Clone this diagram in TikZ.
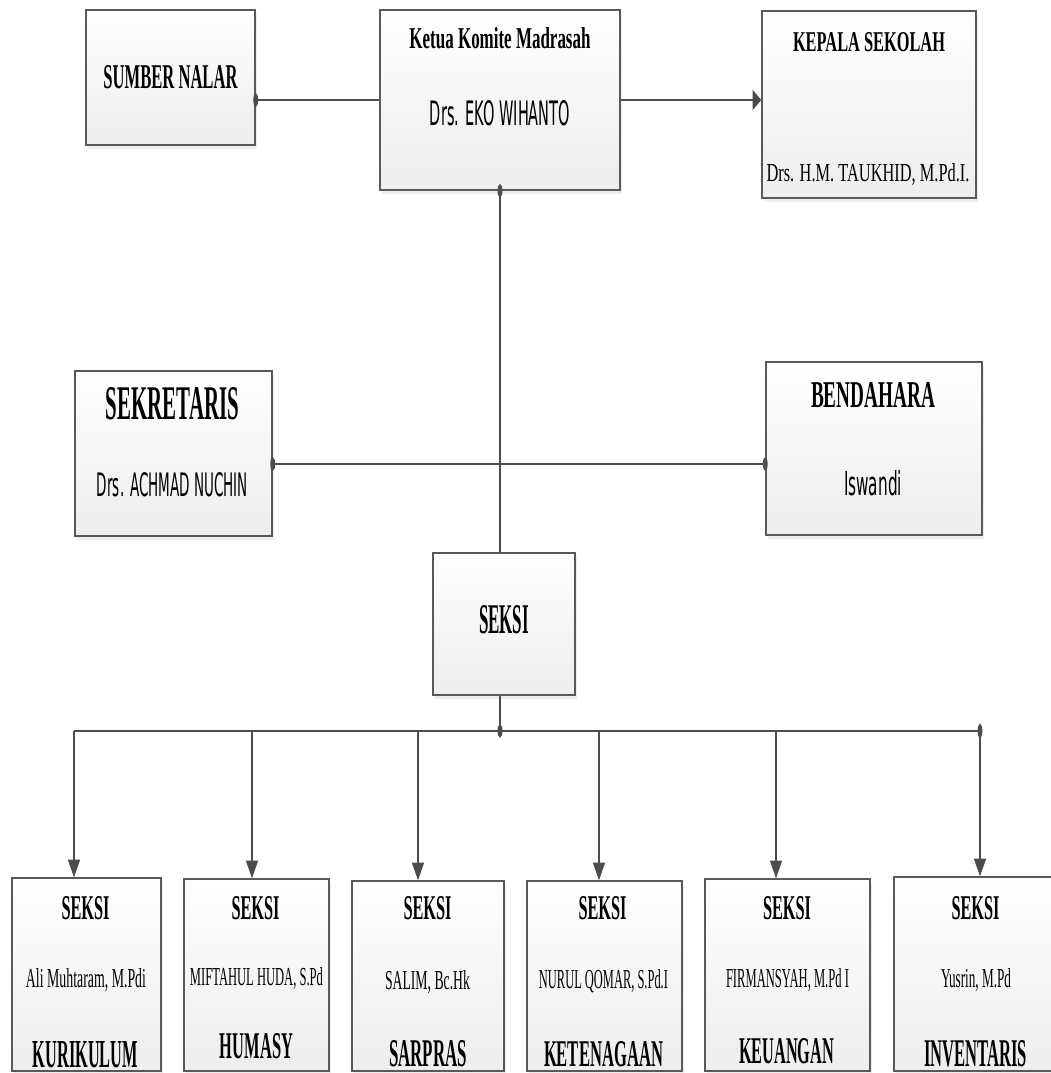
\documentclass[tikz,border=0pt]{standalone}
\usepackage{fontspec}
\setmainfont{Liberation Serif}
\newfontfamily\namefont{DejaVu Sans}
\usepackage{graphicx}
\usetikzlibrary{positioning,calc,arrows.meta,shadows}

\newlength{\px}
\setlength{\px}{0.02cm}
\newcommand{\fitxt}[3]{\resizebox{#1\px}{#2\px}{#3}}

\tikzset{
	orgbox/.style={draw=gray!70!black, line width=0.8pt, top color=white, bottom color=gray!14, inner sep=0,
		drop shadow={shadow xshift=1.2pt, shadow yshift=-2.5pt, fill=gray!40, opacity=0.35}},
	txt/.style={anchor=base, inner sep=0},
	link/.style={draw=gray!60!black, line width=1.1pt},
	stem/.style={draw=gray!60!black, line width=0.6pt},
	bus/.style={draw=gray!60!black, line width=1.4pt},
}

\begin{document}
\begin{tikzpicture}[x=0.02cm, y=-0.02cm]
		\useasboundingbox (0,0) rectangle (1051,1073);
		\clip (0,0) rectangle (1051,1073);
		% top row
		\node[orgbox, minimum width=169\px, minimum height=135\px] (sumber) at (170.5,77.5) {};
		\node[orgbox, minimum width=240\px, minimum height=180\px] (ketua) at (500,100) {};
		\node[orgbox, minimum width=214\px, minimum height=187\px] (kepala) at (869,104.5) {};
		% middle row
		\node[orgbox, minimum width=197\px, minimum height=165\px] (sekretaris) at (173.5,453.5) {};
		\node[orgbox, minimum width=216\px, minimum height=173\px] (bendahara) at (874,448.5) {};
		\node[orgbox, minimum width=142\px, minimum height=142\px] (seksi) at (504,624) {};
		% seksi row
		\node[orgbox, minimum width=149\px, minimum height=193\px] (kur) at (86.5,974.5) {};
		\node[orgbox, minimum width=145\px, minimum height=192\px] (hum) at (256.5,975) {};
		\node[orgbox, minimum width=152\px, minimum height=190\px] (sar) at (428,976) {};
		\node[orgbox, minimum width=155\px, minimum height=190\px] (ket) at (604.5,976) {};
		\node[orgbox, minimum width=165\px, minimum height=192\px] (keu) at (787.5,975) {};
		\node[orgbox, minimum width=164\px, minimum height=194\px] (inv) at (976,974) {};

		% connectors
		\draw[link, {Circle[length=2.8pt,width=7.4pt]}-, shorten <=-1.4pt] (sumber.east |- ketua.west) -- (ketua.west);
		\draw[link, -{Triangle[length=5pt,width=11.4pt]}] (ketua.east) -- (ketua.east -| kepala.west);
		\draw[stem, {Circle[length=7.4pt,width=2.8pt]}-, shorten <=-3.7pt] (ketua.south) -- (ketua.south |- seksi.north);
		\coordinate (mid) at (500,464);
		\draw[link, {Circle[length=2.8pt,width=7.4pt]}-{Circle[length=2.8pt,width=7.4pt]}, shorten <=-1.4pt, shorten >=-1.4pt] (sekretaris.east |- mid) -- (bendahara.west |- mid);
		\coordinate (busM) at (500,731);
		\coordinate (busL) at (74,731);
		\coordinate (busR) at (980,731);
		\draw[stem, -{Circle[length=7.4pt,width=2.8pt]}, shorten >=-3.7pt] (busM |- seksi.south) -- (busM);
		\draw[bus, -{Circle[length=2.8pt,width=7.4pt]}, shorten >=-1.4pt] (busL) -- (busR);
		\foreach \x/\b in {74/kur, 252/hum, 418/sar, 599/ket, 776/keu, 980/inv} {
			\coordinate (drop\b) at (\x,731);
			\draw[stem, -{Triangle[length=10pt,width=6.8pt]}] (drop\b) -- (drop\b |- \b.north);
		}

		% texts
		\node[txt] (sumberT) at (170.5,88) {\fitxt{134}{23}{\bfseries SUMBER NALAR}};
		\node[txt] (ketuaT) at (500,48) {\fitxt{181}{21}{\bfseries Ketua Komite Madrasah}};
		\node[txt] (ketuaN) at (500,125) {\fitxt{140}{25}{\namefont Drs. EKO WIHANTO}};
		\node[txt] (kepalaT) at (869,51) {\fitxt{152}{19}{\bfseries KEPALA SEKOLAH}};
		\node[txt] (kepalaN) at (868,181) {\fitxt{203}{18}{Drs. H.M. TAUKHID, M.Pd.I.}};
		\node[txt] (sekretarisT) at (172.5,419) {\fitxt{133}{32}{\bfseries SEKRETARIS}};
		\node[txt] (sekretarisN) at (172.5,496) {\fitxt{151}{24}{\namefont Drs. ACHMAD NUCHIN}};
		\node[txt] (bendaharaT) at (873,407) {\fitxt{124}{25}{\bfseries BENDAHARA}};
		\node[txt] (bendaharaN) at (873,495) {\fitxt{58}{25}{\namefont Iswandi}};
		\node[txt] (seksiT) at (504,633) {\fitxt{50}{28}{\bfseries SEKSI}};

		\foreach \b/\c in {kur/85.5, hum/255.5, sar/427.5, ket/602.5, keu/787, inv/975.5}
			\node[txt] (\b T) at (\c,919) {\fitxt{48}{23}{\bfseries SEKSI}};

		\node[txt] (kurN) at (86,987) {\fitxt{120}{19}{Ali Muhtaram, M.Pdi}};
		\node[txt] (humN) at (256.5,985) {\fitxt{133}{18}{MIFTAHUL HUDA, S.Pd}};
		\node[txt] (sarN) at (427.5,989) {\fitxt{85}{19}{SALIM, Bc.Hk}};
		\node[txt] (ketN) at (603.5,988) {\fitxt{129}{19}{NURUL QOMAR, S.Pd.I}};
		\node[txt] (keuN) at (787.5,987) {\fitxt{123}{19}{FIRMANSYAH, M.Pd I}};
		\node[txt] (invN) at (976,987) {\fitxt{70}{19}{Yusrin, M.Pd}};

		\node[txt] (kurL) at (85.5,1067) {\fitxt{105}{26}{\bfseries KURIKULUM}};
		\node[txt] (humL) at (256.5,1058) {\fitxt{73}{25}{\bfseries HUMASY}};
		\node[txt] (sarL) at (428,1066) {\fitxt{78}{26}{\bfseries SARPRAS}};
		\node[txt] (ketL) at (603.5,1066) {\fitxt{119}{25}{\bfseries KETENAGAAN}};
		\node[txt] (keuL) at (786.5,1063) {\fitxt{95}{25}{\bfseries KEUANGAN}};
		\node[txt] (invL) at (975.5,1066) {\fitxt{103}{26}{\bfseries INVENTARIS}};
	\end{tikzpicture}
\end{document}
